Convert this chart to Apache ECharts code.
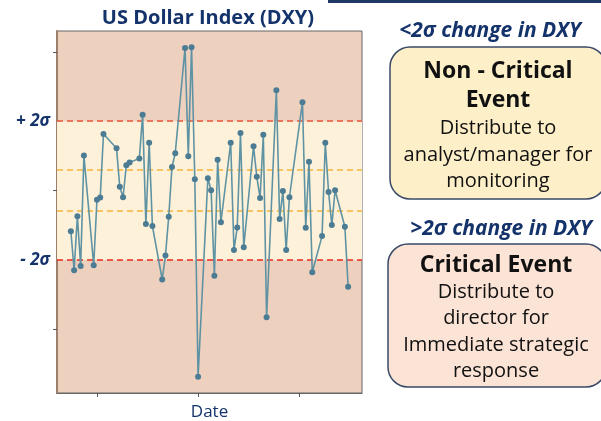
<!DOCTYPE html>
<html>
<head>
<meta charset="utf-8">
<title>US Dollar Index (DXY)</title>
<script src="https://cdn.jsdelivr.net/npm/echarts@6/dist/echarts.min.js"></script>
<style>
  html, body { margin: 0; padding: 0; background: #ffffff; }
  #chart { width: 601px; height: 421px; }
</style>
</head>
<body>
<div id="chart"></div>
<script>
// trading days shown on the chart
var dates = [
    '2014-06-23', '2014-06-24', '2014-06-25', '2014-06-26', '2014-06-27',
    '2014-06-30', '2014-07-01', '2014-07-02', '2014-07-03',
    '2014-07-07', '2014-07-08', '2014-07-09', '2014-07-10', '2014-07-11',
    '2014-07-14', '2014-07-15', '2014-07-16', '2014-07-17', '2014-07-18',
    '2014-07-21', '2014-07-22', '2014-07-23', '2014-07-24', '2014-07-25',
    '2014-07-28', '2014-07-29', '2014-07-30', '2014-07-31', '2014-08-01',
    '2014-08-04', '2014-08-05', '2014-08-06', '2014-08-07', '2014-08-08',
    '2014-08-11', '2014-08-12', '2014-08-13', '2014-08-14', '2014-08-15',
    '2014-08-18', '2014-08-19', '2014-08-20', '2014-08-21', '2014-08-22',
    '2014-08-25', '2014-08-26', '2014-08-27', '2014-08-28', '2014-08-29',
    '2014-09-02', '2014-09-03', '2014-09-04', '2014-09-05',
    '2014-09-08', '2014-09-09', '2014-09-10', '2014-09-11', '2014-09-12',
    '2014-09-15', '2014-09-16'
];
// daily change, in sigma units
var dxyChange = [
    -1.17, -2.29, -0.74, -2.17, 1.01,
    -2.15, -0.26, -0.20, 1.63,
    1.22, 0.11, -0.19, 0.73, 0.81,
    0.93, 2.19, -0.96, 1.38, -1.02,
    -2.56, -1.87, -0.75, 0.68, 1.08,
    4.11, 0.99, 4.13, 0.33, -5.36,
    0.36, 0.01, -2.45, 0.89, -0.91,
    1.38, -1.71, -1.06, 1.66, -1.63,
    1.28, 0.40, -0.21, 1.61, -3.65,
    2.89, -0.82, -0.01, -1.71, -0.19,
    2.55, -1.07, 0.83, -2.35,
    -1.31, 1.38, -0.04, -0.99, 0.01,
    -1.04, -2.77
];
var monthTicks = ['2014-07-01', '2014-08-01', '2014-09-01'];
var yTicks = [-4, 0, 4];
var yLabels = [-2, 2];
var criticalBand = [-2, 2];
var innerBand = [-0.59, 0.59];

// x position = calendar days since the first date
var DAY = 24 * 3600 * 1000;
var t0 = Date.UTC(2014, 5, 23);
function dayNum(s) {
    var p = s.split('-');
    return Math.round((Date.UTC(+p[0], +p[1] - 1, +p[2]) - t0) / DAY);
}

var seriesData = [];
for (var i = 0; i < dates.length; i++) {
    seriesData.push([dayNum(dates[i]), dxyChange[i]]);
}
var lastDay = dayNum(dates[dates.length - 1]);
var pad = lastDay * 0.05;

var NAVY = '#15336b';
var FONT = '"Open Sans", "Noto Sans", sans-serif';

function boxText(x, y, text, bold) {
    return {
        type: 'text',
        x: x,
        y: y,
        style: {
            text: text,
            fill: '#111111',
            font: (bold ? 'bold 23px ' : '20px ') + FONT,
            textAlign: 'center',
            textVerticalAlign: 'middle'
        }
    };
}

var myChart = echarts.init(document.getElementById('chart'));

var option = {
    backgroundColor: '#ffffff',
    animation: false,
    title: {
        text: 'US Dollar Index (DXY)',
        left: 203,
        top: 3,
        textAlign: 'center',
        textStyle: {
            color: NAVY,
            fontSize: 20,
            fontWeight: 'bold',
            fontFamily: FONT
        }
    },
    grid: {
        left: 57,
        right: 239,
        top: 31,
        bottom: 28,
        outerBoundsMode: 'none',
        containLabel: false,
        show: true,
        backgroundColor: '#edd0bd',
        borderColor: '#666666',
        borderWidth: 1
    },
    xAxis: {
        type: 'value',
        min: -pad,
        max: lastDay + pad,
        name: 'Date',
        nameLocation: 'middle',
        nameGap: 11,
        nameTextStyle: { color: NAVY, fontSize: 17, fontFamily: FONT },
        axisLine: { onZero: false, lineStyle: { color: '#666666', width: 1 } },
        axisTick: {
            show: true,
            length: 4,
            lineStyle: { color: '#555555' },
            customValues: monthTicks.map(dayNum)
        },
        axisLabel: { show: false },
        splitLine: { show: false }
    },
    yAxis: {
        type: 'value',
        min: -5.83,
        max: 4.60,
        axisLine: { show: true, onZero: false, lineStyle: { color: '#9c7e6a', width: 2 } },
        axisTick: {
            show: true,
            length: 4,
            lineStyle: { color: '#555555' },
            customValues: yTicks
        },
        axisLabel: {
            show: true,
            customValues: yLabels,
            margin: 7,
            color: NAVY,
            fontSize: 17,
            fontWeight: 'bold',
            fontStyle: 'italic',
            fontFamily: FONT,
            formatter: function (v) {
                return v > 0 ? '+ 2σ' : '- 2σ';
            }
        },
        splitLine: { show: false }
    },
    series: [{
        type: 'line',
        data: seriesData,
        symbol: 'circle',
        symbolSize: 6,
        itemStyle: { color: '#4c7c94' },
        lineStyle: { color: '#5f93a4', width: 1.6 },
        z: 5,
        markArea: {
            silent: true,
            itemStyle: { color: '#fdf2d9' },
            data: [[{ yAxis: criticalBand[0] }, { yAxis: criticalBand[1] }]]
        },
        markLine: {
            silent: true,
            symbol: 'none',
            label: { show: false },
            data: [
                { yAxis: criticalBand[1], lineStyle: { color: '#e8553a', type: [6, 4], width: 1.6 } },
                { yAxis: criticalBand[0], lineStyle: { color: '#e82a1e', type: [6, 4], width: 1.6 } },
                { yAxis: innerBand[1], lineStyle: { color: '#f6b43a', type: [6, 4], width: 1.6 } },
                { yAxis: innerBand[0], lineStyle: { color: '#f6b43a', type: [6, 4], width: 1.6 } }
            ]
        }
    }],
    graphic: [
        { type: 'rect', shape: { x: 328, y: 0, width: 273, height: 3 }, style: { fill: '#1f3864' } },
        {
            type: 'text', x: 490, y: 31,
            style: {
                text: '<2σ change in DXY', fill: NAVY,
                font: 'italic bold 21px ' + FONT,
                textAlign: 'center', textVerticalAlign: 'middle'
            }
        },
        {
            type: 'rect',
            shape: { x: 390, y: 47, width: 216, height: 152, r: 20 },
            style: { fill: '#fdefc7', stroke: '#3a4a66', lineWidth: 1.5 }
        },
        boxText(498, 71, 'Non - Critical', true),
        boxText(498, 100, 'Event', true),
        boxText(498, 128, 'Distribute to', false),
        boxText(498, 155, 'analyst/manager for', false),
        boxText(498, 181, 'monitoring', false),
        {
            type: 'text', x: 501, y: 229,
            style: {
                text: '>2σ change in DXY', fill: NAVY,
                font: 'italic bold 21px ' + FONT,
                textAlign: 'center', textVerticalAlign: 'middle'
            }
        },
        {
            type: 'rect',
            shape: { x: 388, y: 244, width: 218, height: 143, r: 20 },
            style: { fill: '#fbe3d5', stroke: '#3a4a66', lineWidth: 1.5 }
        },
        boxText(496, 265, 'Critical Event', true),
        boxText(496, 292, 'Distribute to', false),
        boxText(496, 318, 'director for', false),
        boxText(496, 345, 'Immediate strategic', false),
        boxText(496, 371, 'response', false)
    ]
};

myChart.setOption(option);
</script>
</body>
</html>
